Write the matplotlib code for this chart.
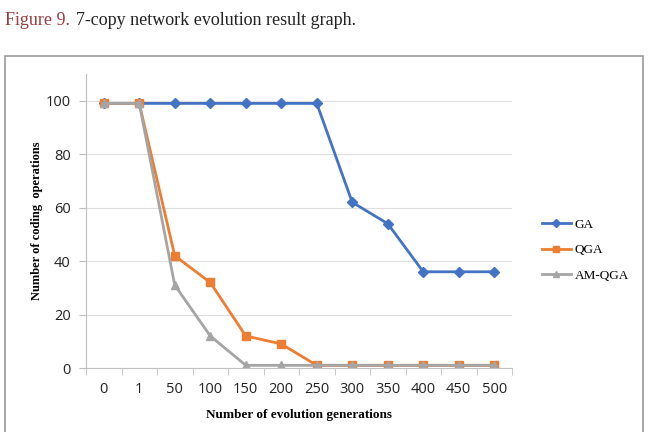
import matplotlib
matplotlib.use("Agg")
import matplotlib.pyplot as plt
from matplotlib.patches import Rectangle
import numpy as np

generations = ["0", "1", "50", "100", "150", "200", "250", "300", "350", "400", "450", "500"]
ga = [99, 99, 99, 99, 99, 99, 99, 62, 54, 36, 36, 36]
qga = [99, 99, 42, 32, 12, 9, 1, 1, 1, 1, 1, 1]
am_qga = [99, 99, 31, 12, 1, 1, 1, 1, 1, 1, 1, 1]

fig = plt.figure(figsize=(6.49, 4.32), dpi=100)

# caption above the chart box
fig.text(5 / 649, 1 - 25 / 432, "Figure 9.", color="#9b3b3b", fontsize=13,
         family="Liberation Serif", va="baseline")
fig.text(76 / 649, 1 - 25 / 432, "7-copy network evolution result graph.", color="#222222",
         fontsize=13, family="Liberation Serif", va="baseline")

# chart border
fig.patches.append(Rectangle((5 / 649, -0.05), 638 / 649, 1 - 56 / 432 + 0.05,
                             transform=fig.transFigure, fill=False,
                             edgecolor="#9a9a9a", linewidth=1.2))

ax = fig.add_axes([86 / 649, 1 - 368 / 432, 426 / 649, 294 / 432])
x = np.arange(len(generations))

ax.plot(x, ga, color="#4472c4", marker="D", markersize=5, linewidth=2, label="GA")
ax.plot(x, qga, color="#ed7d31", marker="s", markersize=6, linewidth=2, label="QGA")
ax.plot(x, am_qga, color="#a5a5a5", marker="^", markersize=6, linewidth=2, label="AM-QGA")

ax.set_xlim(-0.5, len(generations) - 0.5)
ax.set_ylim(0, 110)
ax.set_yticks([0, 20, 40, 60, 80, 100])
ax.set_xticks(x)
ax.set_xticklabels(generations)
ax.set_xticks(np.arange(-0.5, len(generations)), minor=True)
ax.tick_params(axis="x", which="major", length=0, pad=10, labelsize=10.5, labelcolor="#222222")
ax.tick_params(axis="x", which="minor", length=5, color="#bfbfbf", direction="out")
ax.tick_params(axis="y", length=5, color="#bfbfbf", pad=6, labelsize=10.5, labelcolor="#222222")
for lab in ax.get_xticklabels() + ax.get_yticklabels():
    lab.set_family("Open Sans")

ax.grid(axis="y", color="#dedede", linewidth=0.8)
ax.set_axisbelow(True)
for s in ["top", "right"]:
    ax.spines[s].set_visible(False)
ax.spines["left"].set_color("#bfbfbf")
ax.spines["bottom"].set_color("#bfbfbf")

ax.set_xlabel("Number of evolution generations", fontsize=9.5, fontweight="bold",
              family="Liberation Serif", labelpad=9)
ax.set_ylabel("Number of coding  operations", fontsize=9, fontweight="bold",
              family="Liberation Serif", labelpad=2)

fig.legend(loc="center left", bbox_to_anchor=(530 / 649, 1 - 250 / 432), frameon=False,
           prop={"family": "Liberation Serif", "size": 9.5}, handlelength=2.2,
           labelspacing=1.0, handletextpad=0.3, markerscale=0.8)

fig.savefig("out.png", dpi=100)
